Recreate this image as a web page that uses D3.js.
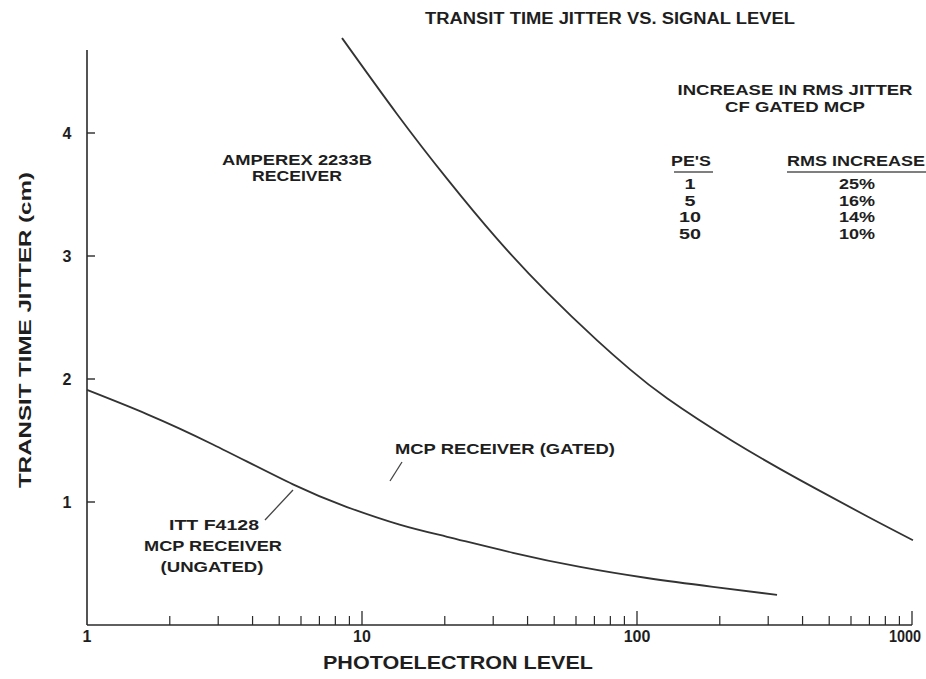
<!DOCTYPE html>
<html>
<head>
<meta charset="utf-8">
<script src="https://cdn.jsdelivr.net/npm/d3@7"></script>
<style>
  html, body { margin: 0; padding: 0; background: #fff; }
  svg text { font-family: "Liberation Sans Narrow", "Liberation Sans", Arial, sans-serif; font-weight: bold; fill: #1e1e1e; }
</style>
</head>
<body>
<svg id="chart" width="926" height="679"></svg>
<script>
// ---- data ----
const amperexX = [8.46, 13.4, 20.4, 31.0, 47.1, 71.6, 94.3, 128.6, 223, 392, 686, 1008];
const amperexY = [4.772, 4.155, 3.627, 3.139, 2.704, 2.314, 2.078, 1.843, 1.494, 1.178, 0.884, 0.689];
const mcpX = [1, 1.65, 2.87, 5.61, 8.82, 13.7, 20.4, 35.4, 62.1, 108.7, 189, 323];
const mcpY = [1.911, 1.715, 1.468, 1.143, 0.959, 0.816, 0.717, 0.587, 0.472, 0.382, 0.310, 0.245];
const xTickLabels = ["1", "10", "100", "1000"];
const xTickValues = [1, 10, 100, 1000];
const yTickValues = [1, 2, 3, 4];
const tablePEs = ["1", "5", "10", "50"];
const tableIncrease = ["25%", "16%", "14%", "10%"];

const svg = d3.select("#chart");
const x = d3.scaleLog().domain([1, 1000]).range([87, 912]);
const y = d3.scaleLinear().domain([0, 4]).range([625, 133]);
const ink = "#2a2a2a";

// axes
svg.append("line").attr("x1", x(1)).attr("x2", x(1)).attr("y1", y(0)).attr("y2", 50)
  .attr("stroke", ink).attr("stroke-width", 1.6);
svg.append("line").attr("x1", x(1)).attr("x2", x(1000)).attr("y1", y(0)).attr("y2", y(0))
  .attr("stroke", ink).attr("stroke-width", 1.6);

// y ticks
yTickValues.forEach(v => {
  svg.append("line").attr("x1", x(1)).attr("x2", x(1) + 8).attr("y1", y(v)).attr("y2", y(v))
    .attr("stroke", ink).attr("stroke-width", 1.4);
  svg.append("text").attr("x", 67).attr("y", y(v) + 6).attr("text-anchor", "middle")
    .attr("font-size", 16).text(v);
});

// x ticks: minor + major
const minor = [];
[1, 10, 100].forEach(d => { for (let k = 2; k <= 9; k++) minor.push(d * k); });
minor.forEach(v => {
  svg.append("line").attr("x1", x(v)).attr("x2", x(v)).attr("y1", y(0)).attr("y2", y(0) - 9)
    .attr("stroke", ink).attr("stroke-width", 1.2);
});
xTickValues.forEach((v, i) => {
  if (v > 1) svg.append("line").attr("x1", x(v)).attr("x2", x(v)).attr("y1", y(0)).attr("y2", y(0) - 14)
    .attr("stroke", ink).attr("stroke-width", 1.3);
  const t = svg.append("text").attr("y", 642).attr("font-size", 16).text(xTickLabels[i]);
  if (v === 1000) t.attr("x", 921).attr("text-anchor", "end").attr("textLength", 32).attr("lengthAdjust", "spacingAndGlyphs");
  else t.attr("x", x(v)).attr("text-anchor", "middle");
});

// curves
const line = d3.line().x(d => x(d[0])).y(d => y(d[1])).curve(d3.curveNatural);
svg.append("path").datum(amperexX.map((v, i) => [v, amperexY[i]])).attr("d", line)
  .attr("fill", "none").attr("stroke", "#333").attr("stroke-width", 1.8);
svg.append("path").datum(mcpX.map((v, i) => [v, mcpY[i]])).attr("d", line)
  .attr("fill", "none").attr("stroke", "#333").attr("stroke-width", 1.8);

// leader lines
svg.append("line").attr("x1", 402).attr("y1", 462).attr("x2", 390).attr("y2", 481)
  .attr("stroke", "#444").attr("stroke-width", 1.3);
svg.append("line").attr("x1", 293).attr("y1", 490).attr("x2", 265).attr("y2", 520)
  .attr("stroke", "#444").attr("stroke-width", 1.3);

function txt(s, cx, cy, size, anchor) {
  return svg.append("text").attr("x", cx).attr("y", cy).attr("font-size", size)
    .attr("text-anchor", anchor || "middle").text(s);
}

// title
txt("TRANSIT TIME JITTER VS. SIGNAL LEVEL", 610, 24, 16).attr("textLength", 370).attr("lengthAdjust", "spacingAndGlyphs");

// axis titles
txt("PHOTOELECTRON LEVEL", 458, 669, 18).attr("textLength", 270).attr("lengthAdjust", "spacingAndGlyphs");
svg.append("text").attr("transform", "translate(31,330) rotate(-90)").attr("text-anchor", "middle")
  .attr("font-size", 17).attr("textLength", 316).attr("lengthAdjust", "spacingAndGlyphs")
  .text("TRANSIT TIME JITTER (cm)");

// curve labels
txt("AMPEREX 2233B", 297, 165, 15).attr("textLength", 150).attr("lengthAdjust", "spacingAndGlyphs");
txt("RECEIVER", 297, 181, 15).attr("textLength", 90).attr("lengthAdjust", "spacingAndGlyphs");
txt("MCP RECEIVER (GATED)", 505, 454, 15).attr("textLength", 220).attr("lengthAdjust", "spacingAndGlyphs");
txt("ITT F4128", 214, 530, 15).attr("textLength", 90).attr("lengthAdjust", "spacingAndGlyphs");
txt("MCP RECEIVER", 213, 551, 15).attr("textLength", 138).attr("lengthAdjust", "spacingAndGlyphs");
txt("(UNGATED)", 212, 572, 15).attr("textLength", 103).attr("lengthAdjust", "spacingAndGlyphs");

// table
txt("INCREASE IN RMS JITTER", 795, 95, 15).attr("textLength", 235).attr("lengthAdjust", "spacingAndGlyphs");
txt("CF GATED MCP", 795, 112, 15).attr("textLength", 140).attr("lengthAdjust", "spacingAndGlyphs");
txt("PE'S", 691, 166, 15).attr("textLength", 40).attr("lengthAdjust", "spacingAndGlyphs");
txt("RMS INCREASE", 856, 166, 15).attr("textLength", 138).attr("lengthAdjust", "spacingAndGlyphs");
svg.append("line").attr("x1", 674).attr("x2", 713).attr("y1", 172).attr("y2", 172).attr("stroke", "#555").attr("stroke-width", 1.5);
svg.append("line").attr("x1", 787).attr("x2", 926).attr("y1", 172).attr("y2", 172).attr("stroke", "#555").attr("stroke-width", 1.5);
const rowY = d3.scaleBand().domain(tablePEs).range([176, 242]);
tablePEs.forEach((p, i) => {
  txt(p, 690, rowY(p) + 13, 15).attr("textLength", p.length * 11).attr("lengthAdjust", "spacingAndGlyphs");
  txt(tableIncrease[i], 857, rowY(p) + 13, 15).attr("textLength", 36).attr("lengthAdjust", "spacingAndGlyphs");
});
</script>
</body>
</html>
